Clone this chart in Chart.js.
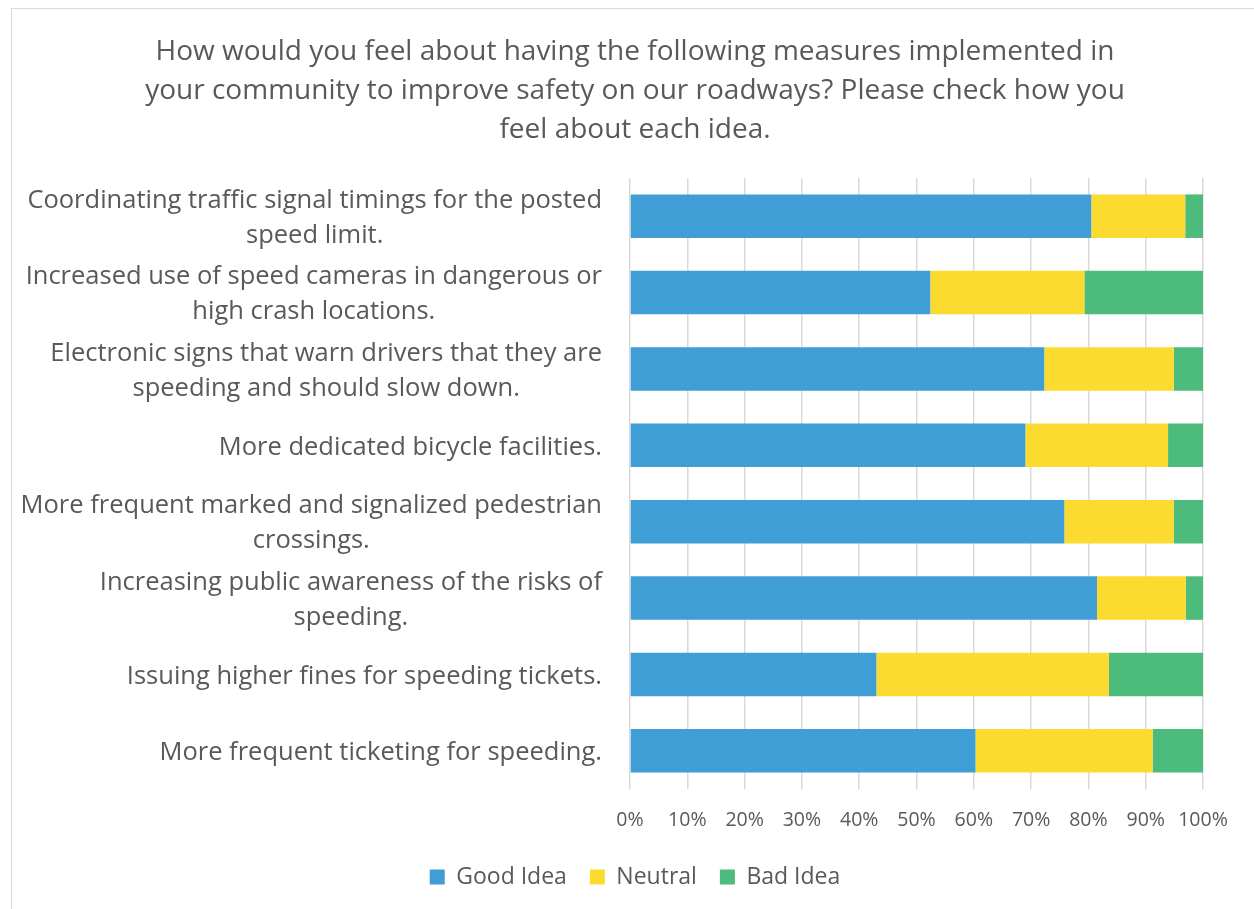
<!DOCTYPE html>
<html>
<head>
<meta charset="utf-8">
<script src="https://cdn.jsdelivr.net/npm/chart.js@4.4.1/dist/chart.umd.min.js"></script>
<style>
  html, body { margin: 0; padding: 0; background: #fff; overflow: hidden; }
  #frame { position: absolute; left: 11px; top: 8px; width: 1300px; height: 1000px; border: 1.5px solid #d9d9d9; }
  #wrap { position: absolute; left: 0; top: 0; width: 1270px; height: 920px; }
</style>
</head>
<body>
<div id="frame"></div>
<div id="wrap"><canvas id="chart"></canvas></div>
<script>
// categories (top to bottom)
const categories = [
  ['Coordinating traffic signal timings for the posted', 'speed limit.'],
  ['Increased use of speed cameras in dangerous or', 'high crash locations.'],
  ['Electronic signs that warn drivers that they are', 'speeding and should slow down.'],
  ['More dedicated bicycle facilities.'],
  ['More frequent marked and signalized pedestrian', 'crossings.'],
  ['Increasing public awareness of the risks of', 'speeding.'],
  ['Issuing higher fines for speeding tickets.'],
  ['More frequent ticketing for speeding.']
];

// percentages
const goodIdea = [80.5, 52.4, 72.3, 69.0, 75.8, 81.5, 43.0, 60.3];
const neutral  = [16.4, 26.9, 22.6, 24.9, 19.1, 15.5, 40.6, 30.9];
const badIdea  = [3.1, 20.7, 5.1, 6.1, 5.1, 3.0, 16.4, 8.8];

const titleLines = [
  'How would you feel about having the following measures implemented in',
  'your community to improve safety on our roadways? Please check how you',
  'feel about each idea.'
];

const TEXT = '#595959';
const FONT = "'Open Sans', 'Noto Sans', sans-serif";

// y labels: block right aligned, lines centered inside the block (like Excel)
const yLabelsPlugin = {
  id: 'yLabels',
  afterDraw(chart) {
    const { ctx, scales } = chart;
    const y = scales.y;
    const right = y.right - 28;
    const lineH = 35;
    ctx.save();
    ctx.font = '25.5px ' + FONT;
    ctx.fillStyle = TEXT;
    ctx.textAlign = 'center';
    ctx.textBaseline = 'middle';
    categories.forEach((lines, i) => {
      const cy = y.getPixelForValue(i) + 2;
      const w = Math.max(...lines.map(l => ctx.measureText(l).width));
      const cx = right - w / 2;
      lines.forEach((l, j) => {
        ctx.fillText(l, cx, cy - (lines.length - 1) * lineH / 2 + j * lineH);
      });
    });
    ctx.restore();
  }
};

const ctx = document.getElementById('chart').getContext('2d');
new Chart(ctx, {
  type: 'bar',
  data: {
    labels: categories.map(c => c.join(' ')),
    datasets: [
      { label: 'Good Idea', data: goodIdea, backgroundColor: '#409ed6' },
      { label: 'Neutral', data: neutral, backgroundColor: '#fcdb31' },
      { label: 'Bad Idea', data: badIdea, backgroundColor: '#4cbb7b' }
    ]
  },
  options: {
    indexAxis: 'y',
    responsive: true,
    maintainAspectRatio: false,
    animation: false,
    barPercentage: 0.57,
    categoryPercentage: 1,
    layout: { padding: { left: 67, right: 67, top: 0, bottom: 21.5 } },
    scales: {
      x: {
        stacked: true,
        min: 0,
        max: 100,
        grid: { color: '#d9d9d9', lineWidth: 1.5, drawTicks: false },
        border: { display: false },
        ticks: {
          stepSize: 10,
          padding: 20,
          color: TEXT,
          font: { family: FONT, size: 19.5 },
          callback: v => v + '%'
        },
        afterFit(scale) { scale.height = 53.5; }
      },
      y: {
        stacked: true,
        grid: { display: false },
        border: { display: false },
        ticks: { display: false },
        afterFit(scale) { scale.width = 563; }
      }
    },
    plugins: {
      title: {
        display: true,
        text: titleLines,
        color: TEXT,
        font: { family: FONT, size: 28, weight: 'normal', lineHeight: 1.393 },
        padding: { top: 33, bottom: 28 }
      },
      legend: {
        position: 'bottom',
        labels: {
          color: TEXT,
          boxWidth: 15,
          boxHeight: 15,
          padding: 23,
          font: { family: FONT, size: 23 }
        }
      },
      tooltip: { enabled: false }
    }
  },
  plugins: [yLabelsPlugin]
});
</script>
</body>
</html>
